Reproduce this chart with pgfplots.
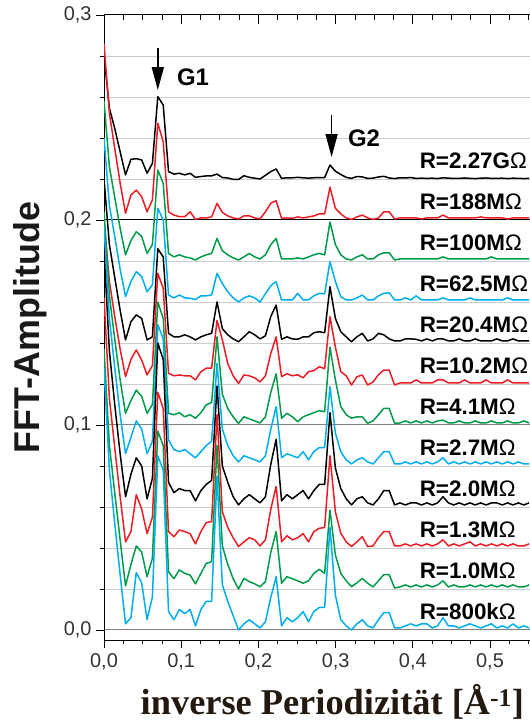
\documentclass[border=0pt]{standalone}
\usepackage{pgfplots}
\pgfplotsset{compat=1.18}
\usepackage{pgfplotstable}
\usetikzlibrary{arrows.meta}
\usepackage{fontspec}
\setmainfont{Liberation Sans}
\newfontfamily\labelserif{Liberation Serif}

\definecolor{fftred}{RGB}{237,28,36}
\definecolor{fftgreen}{RGB}{0,155,72}
\definecolor{fftblue}{RGB}{0,174,239}
\definecolor{xlabcol}{RGB}{35,25,15}

% FFT amplitude spectra, vertically offset by 0.02 per sample
% a=800k  b=1.0M  c=1.3M  d=2.0M  e=2.7M  f=4.1M
% g=10.2M h=20.4M i=62.5M j=100M  k=188M  l=2.27G
\pgfplotstableread{
x a b c d e f g h i j k l
0.0000 0.128 0.137 0.162 0.185 0.197 0.204 0.200 0.220 0.240 0.258 0.286 0.2805
0.0070 0.078 0.090 0.113 0.136 0.152 0.163 0.170 0.188 0.207 0.226 0.252 0.2545
0.0139 0.052 0.067 0.089 0.110 0.128 0.142 0.153 0.172 0.192 0.211 0.235 0.2447
0.0209 0.027 0.044 0.065 0.086 0.105 0.122 0.137 0.156 0.176 0.196 0.218 0.2333
0.0279 0.003 0.0215 0.043 0.065 0.086 0.1057 0.1236 0.1415 0.1626 0.183 0.2033 0.222
0.0349 0.006 0.032 0.048 0.076 0.094 0.112 0.132 0.1504 0.170 0.190 0.2122 0.2296
0.0418 0.028 0.041 0.066 0.084 0.102 0.117 0.1366 0.1537 0.1748 0.1943 0.2146 0.2299
0.0488 0.023 0.038 0.059 0.080 0.098 0.114 0.1317 0.152 0.1724 0.192 0.2114 0.2293
0.0558 0.005 0.026 0.047 0.064 0.086 0.1057 0.1244 0.1415 0.165 0.1837 0.204 0.2228
0.0627 0.016 0.035 0.055 0.074 0.092 0.110 0.129 0.143 0.1683 0.188 0.2098 0.2276
0.0697 0.085 0.097 0.116 0.140 0.149 0.160 0.174 0.186 0.2057 0.2244 0.2472 0.2602
0.0767 0.078 0.090 0.108 0.132 0.142 0.152 0.1667 0.182 0.200 0.2179 0.2382 0.2561
0.0836 0.009 0.0284 0.048 0.072 0.0927 0.1057 0.1252 0.1447 0.1634 0.1837 0.204 0.2236
0.0906 0.005 0.025 0.0455 0.067 0.088 0.105 0.124 0.143 0.162 0.182 0.2024 0.2224
0.0976 0.010 0.0293 0.0488 0.069 0.087 0.106 0.1244 0.143 0.1634 0.183 0.2016 0.2228
0.1046 0.008 0.0276 0.048 0.068 0.088 0.104 0.124 0.144 0.162 0.182 0.2016 0.222
0.1115 0.010 0.0268 0.047 0.068 0.086 0.105 0.124 0.143 0.1618 0.1815 0.204 0.2228
0.1185 0.002 0.0225 0.042 0.063 0.084 0.1033 0.122 0.1415 0.1612 0.1805 0.2003 0.2208
0.1255 0.010 0.0276 0.048 0.068 0.087 0.106 0.126 0.143 0.163 0.182 0.201 0.2212
0.1324 0.014 0.0325 0.0524 0.071 0.090 0.1098 0.1277 0.144 0.163 0.183 0.201 0.2215
0.1394 0.014 0.0333 0.0529 0.073 0.092 0.111 0.1277 0.1447 0.1634 0.1837 0.2015 0.2215
0.1464 0.075 0.090 0.105 0.119 0.130 0.143 0.151 0.160 0.174 0.191 0.2081 0.2224
0.1533 0.022 0.041 0.0577 0.080 0.098 0.115 0.1415 0.147 0.169 0.185 0.2037 0.2207
0.1603 0.014 0.032 0.050 0.072 0.090 0.108 0.130 0.144 0.165 0.183 0.202 0.2205
0.1673 0.007 0.025 0.045 0.065 0.085 0.104 0.124 0.142 0.162 0.1815 0.201 0.2198
0.1743 0.000 0.020 0.0407 0.061 0.082 0.1008 0.1203 0.1406 0.160 0.1805 0.2005 0.2198
0.1812 0.003 0.0252 0.043 0.064 0.085 0.104 0.1244 0.143 0.162 0.182 0.202 0.2216
0.1882 0.005 0.0236 0.045 0.066 0.084 0.103 0.124 0.1455 0.163 0.1837 0.202 0.2208
0.1952 0.003 0.0225 0.044 0.064 0.083 0.102 0.123 0.144 0.162 0.182 0.201 0.2204
0.2021 0.001 0.0211 0.041 0.062 0.082 0.101 0.121 0.142 0.160 0.181 0.2005 0.2200
0.2091 0.004 0.0236 0.044 0.065 0.085 0.104 0.124 0.1435 0.164 0.183 0.204 0.2218
0.2161 0.016 0.038 0.059 0.081 0.098 0.116 0.135 0.153 0.168 0.188 0.2082 0.2236
0.2230 0.026 0.048 0.070 0.093 0.109 0.125 0.143 0.1585 0.170 0.191 0.2094 0.2249
0.2300 0.002 0.0228 0.043 0.063 0.084 0.1033 0.1236 0.1418 0.161 0.181 0.2008 0.2203
0.2370 0.006 0.026 0.046 0.066 0.086 0.1057 0.125 0.143 0.161 0.181 0.201 0.2206
0.2440 0.004 0.025 0.044 0.064 0.085 0.104 0.124 0.142 0.161 0.181 0.2008 0.2206
0.2509 0.006 0.024 0.045 0.066 0.084 0.1016 0.1245 0.1418 0.1642 0.1815 0.2015 0.2208
0.2579 0.009 0.0228 0.047 0.068 0.087 0.104 0.123 0.143 0.161 0.181 0.201 0.2206
0.2649 0.004 0.024 0.043 0.064 0.083 0.105 0.126 0.143 0.161 0.182 0.2015 0.2204
0.2718 0.009 0.0276 0.048 0.068 0.087 0.106 0.1265 0.145 0.163 0.183 0.202 0.2206
0.2788 0.011 0.0296 0.0496 0.071 0.089 0.107 0.1284 0.1455 0.1642 0.1837 0.203 0.2207
0.2858 0.011 0.0276 0.050 0.071 0.089 0.1065 0.1275 0.145 0.164 0.183 0.203 0.2207
0.2927 0.050 0.0585 0.085 0.106 0.1187 0.138 0.1528 0.1675 0.1797 0.199 0.216 0.2268
0.2997 0.017 0.0366 0.0577 0.079 0.096 0.122 0.138 0.152 0.170 0.188 0.2057 0.2238
0.3067 0.005 0.0276 0.0472 0.069 0.087 0.109 0.126 0.1455 0.1626 0.183 0.203 0.2222
0.3137 0.002 0.024 0.043 0.064 0.083 0.105 0.124 0.143 0.161 0.181 0.201 0.2208
0.3206 0.000 0.0211 0.0407 0.061 0.081 0.1033 0.1195 0.1406 0.161 0.1805 0.2003 0.2203
0.3276 0.003 0.023 0.043 0.064 0.083 0.104 0.1235 0.143 0.162 0.182 0.2015 0.2212
0.3346 0.005 0.0252 0.0455 0.065 0.084 0.104 0.1244 0.1447 0.1634 0.183 0.2024 0.2210
0.3415 0.002 0.0228 0.0407 0.062 0.082 0.1008 0.1195 0.141 0.161 0.181 0.201 0.2203
0.3485 0.001 0.021 0.041 0.061 0.081 0.102 0.121 0.142 0.161 0.181 0.2003 0.2204
0.3555 0.005 0.024 0.045 0.064 0.084 0.105 0.1245 0.1447 0.163 0.183 0.201 0.2210
0.3624 0.0085 0.027 0.048 0.068 0.087 0.1081 0.1268 0.144 0.1642 0.184 0.204 0.2213
0.3694 0.0085 0.027 0.048 0.068 0.087 0.1081 0.1268 0.142 0.1645 0.184 0.204 0.2205
0.3764 0.001 0.0205 0.041 0.061 0.081 0.1008 0.1195 0.141 0.161 0.1805 0.2005 0.2202
0.3834 0.001 0.021 0.041 0.062 0.081 0.101 0.1205 0.141 0.161 0.181 0.201 0.2206
0.3903 0.002 0.022 0.042 0.061 0.082 0.102 0.1205 0.142 0.162 0.181 0.201 0.2205
0.3973 0.003 0.021 0.041 0.062 0.081 0.101 0.1205 0.142 0.161 0.181 0.201 0.2207
0.4043 0.002 0.022 0.042 0.062 0.082 0.102 0.122 0.1418 0.163 0.181 0.201 0.2203
0.4112 0.003 0.021 0.041 0.061 0.081 0.101 0.1205 0.141 0.161 0.181 0.2005 0.2204
0.4182 0.003 0.022 0.042 0.062 0.082 0.102 0.1205 0.142 0.161 0.181 0.201 0.2203
0.4252 0.001 0.021 0.041 0.061 0.081 0.101 0.1205 0.141 0.161 0.181 0.201 0.2204
0.4321 0.002 0.022 0.042 0.062 0.082 0.102 0.122 0.142 0.161 0.181 0.201 0.2202
0.4391 0.006 0.024 0.044 0.065 0.084 0.1024 0.122 0.142 0.162 0.182 0.2024 0.2206
0.4461 0.002 0.021 0.041 0.062 0.081 0.101 0.1205 0.141 0.161 0.181 0.201 0.2204
0.4531 0.002 0.022 0.042 0.061 0.082 0.101 0.1205 0.141 0.161 0.181 0.201 0.2203
0.4600 0.001 0.021 0.041 0.062 0.081 0.102 0.1205 0.142 0.161 0.181 0.201 0.2203
0.4670 0.002 0.021 0.042 0.061 0.082 0.101 0.122 0.141 0.161 0.181 0.201 0.2205
0.4740 0.003 0.022 0.043 0.062 0.081 0.101 0.1205 0.141 0.162 0.181 0.201 0.2203
0.4809 0.002 0.021 0.041 0.061 0.082 0.102 0.1205 0.142 0.161 0.181 0.201 0.2202
0.4879 0.001 0.022 0.042 0.062 0.081 0.101 0.1205 0.141 0.161 0.181 0.2015 0.2204
0.4949 0.002 0.021 0.041 0.061 0.082 0.101 0.122 0.141 0.161 0.181 0.201 0.2205
0.5018 0.003 0.022 0.042 0.062 0.081 0.102 0.1205 0.141 0.161 0.182 0.201 0.2203
0.5088 0.001 0.021 0.041 0.062 0.082 0.101 0.1205 0.142 0.161 0.181 0.201 0.2203
0.5158 0.002 0.022 0.042 0.061 0.081 0.101 0.1205 0.141 0.161 0.181 0.201 0.2204
0.5228 0.001 0.021 0.041 0.062 0.082 0.102 0.122 0.141 0.162 0.181 0.2005 0.2202
0.5297 0.003 0.022 0.042 0.061 0.081 0.101 0.1205 0.142 0.161 0.181 0.201 0.2204
0.5367 0.001 0.021 0.041 0.062 0.082 0.101 0.1205 0.141 0.161 0.181 0.201 0.2203
0.5437 0.002 0.021 0.041 0.061 0.081 0.102 0.1205 0.141 0.161 0.181 0.201 0.2202
0.5506 0.001 0.022 0.042 0.062 0.081 0.101 0.1205 0.141 0.161 0.181 0.201 0.2203
}\fftdata

\pgfplotsset{
  fftframe/.style={
    at={(104bp,82bp)}, anchor=south west,
    scale only axis, width=426bp, height=625bp,
    xmin=0, xmax=0.5518, ymin=-0.00488, ymax=0.3,
    axis line style={-, line width=1pt, black},
    xtick={0,0.1,0.2,0.3,0.4,0.5},
    minor xtick={0.025,0.05,0.075,0.125,0.15,0.175,0.225,0.25,0.275,0.325,0.35,0.375,0.425,0.45,0.475,0.525,0.55},
    every tick/.style={black, line width=0.8pt},
  },
}

\newcommand{\rlabel}[2]{\node[anchor=west, font=\bfseries\fontsize{22.5}{26}\selectfont] at (axis cs:0.4045,#1) {R=#2{\mdseries Ω}};}

\begin{document}
\begin{tikzpicture}
\useasboundingbox (0,0) rectangle (530bp,722bp);
\begin{axis}[
  fftframe,
  axis x line*=bottom, axis y line*=left,
  tick align=outside,
  major tick length=8bp, minor tick length=4bp,
  ytick={0,0.1,0.2,0.3},
  minor ytick={0.02,0.04,0.06,0.08,0.12,0.14,0.16,0.18,0.22,0.24,0.26,0.28},
  extra y ticks={0.2}, extra y tick labels={},
  extra y tick style={grid=major, major grid style={black, line width=1pt}},
  ymajorgrids, yminorgrids,
  major grid style={black!50, line width=1pt},
  minor grid style={black!20, line width=0.8pt},
  /pgf/number format/fixed, /pgf/number format/fixed zerofill,
  /pgf/number format/precision=1, /pgf/number format/use comma,
  /pgf/number format/assume math mode=true,
  ticklabel style={font=\fontsize{20}{24}\selectfont, text=black!80},
  xticklabel style={yshift=-2bp},
  yticklabel style={xshift=-1bp},
  xlabel={inverse Periodizität [Å\textsuperscript{-1}]},
  xlabel style={font=\labelserif\bfseries\fontsize{36.5}{40}\selectfont, text=xlabcol,
    at={(axis description cs:0.536,-0.12)}, anchor=base},
  ylabel={FFT-Amplitude},
  ylabel style={font=\bfseries\fontsize{36}{40}\selectfont, text=black!90,
    at={(axis description cs:-0.1725,0.5)}, anchor=center},
  every axis plot/.append style={line width=1.5pt, mark=none, line join=round},
]
\addplot[black]     table[x=x, y=l] {\fftdata};
\addplot[fftred]    table[x=x, y=k] {\fftdata};
\addplot[fftgreen]  table[x=x, y=j] {\fftdata};
\addplot[fftblue]   table[x=x, y=i] {\fftdata};
\addplot[black]     table[x=x, y=h] {\fftdata};
\addplot[fftred]    table[x=x, y=g] {\fftdata};
\addplot[fftgreen]  table[x=x, y=f] {\fftdata};
\addplot[fftblue]   table[x=x, y=e] {\fftdata};
\addplot[black]     table[x=x, y=d] {\fftdata};
\addplot[fftred]    table[x=x, y=c] {\fftdata};
\addplot[fftgreen]  table[x=x, y=b] {\fftdata};
\addplot[fftblue]   table[x=x, y=a] {\fftdata};

% peak markers
\draw[line width=1.6pt, -{Triangle[length=23bp, width=12bp]}]
  (axis cs:0.0697,0.2839) -- (axis cs:0.0697,0.2634);
\node[font=\bfseries\fontsize{24}{28}\selectfont] at (axis cs:0.1153,0.2698) {G1};
\draw[line width=1.6pt, -{Triangle[length=23bp, width=12bp]}]
  (axis cs:0.2948,0.2512) -- (axis cs:0.2948,0.2307);
\node[font=\bfseries\fontsize{24}{28}\selectfont] at (axis cs:0.3368,0.2398) {G2};

% sample resistances
\rlabel{0.229}{2.27G}
\rlabel{0.209}{188M}
\rlabel{0.189}{100M}
\rlabel{0.169}{62.5M}
\rlabel{0.149}{20.4M}
\rlabel{0.129}{10.2M}
\rlabel{0.109}{4.1M}
\rlabel{0.089}{2.7M}
\rlabel{0.069}{2.0M}
\rlabel{0.049}{1.3M}
\rlabel{0.029}{1.0M}
\rlabel{0.009}{800k}
\end{axis}
% top frame line with inward ticks
\begin{axis}[
  fftframe,
  axis x line*=top, axis y line=none,
  tick align=inside,
  major tick length=9bp, minor tick length=5bp,
  xticklabels={},
]
\end{axis}
\end{tikzpicture}
\end{document}
